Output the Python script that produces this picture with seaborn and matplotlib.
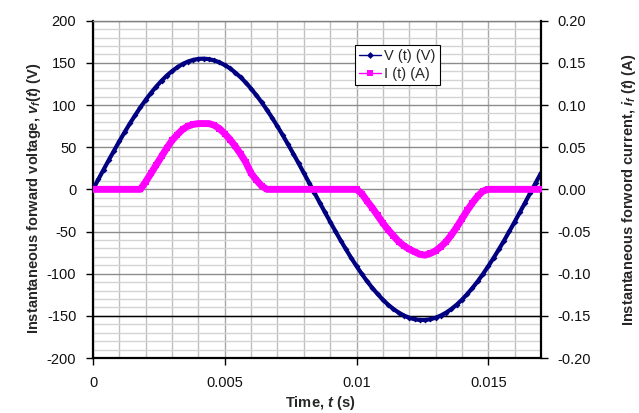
import matplotlib
matplotlib.use("Agg")
import matplotlib.pyplot as plt
from matplotlib.lines import Line2D
from matplotlib.ticker import MultipleLocator, FixedLocator
import seaborn as sns
import pandas as pd

sns.set_theme(style="white")
plt.rcParams["font.family"] = ["Liberation Sans", "DejaVu Sans"]
plt.rcParams["mathtext.fontset"] = "custom"
plt.rcParams["mathtext.rm"] = "Liberation Sans:bold"
plt.rcParams["mathtext.it"] = "Liberation Sans:bold:italic"
plt.rcParams["mathtext.bf"] = "Liberation Sans:bold"

# ---- data ----
time_s = [0.0, 0.0002, 0.0004, 0.0006, 0.0008, 0.001, 0.0012, 0.0014, 0.0016, 0.0018,
          0.002, 0.0022, 0.0024, 0.0026, 0.0028, 0.003, 0.0032, 0.0034, 0.0036, 0.0038,
          0.004, 0.0042, 0.0044, 0.0046, 0.0048, 0.005, 0.0052, 0.0054, 0.0056, 0.0058,
          0.006, 0.0062, 0.0064, 0.0066, 0.0068, 0.007, 0.0072, 0.0074, 0.0076, 0.0078,
          0.008, 0.0082, 0.0084, 0.0086, 0.0088, 0.009, 0.0092, 0.0094, 0.0096, 0.0098,
          0.01, 0.0102, 0.0104, 0.0106, 0.0108, 0.011, 0.0112, 0.0114, 0.0116, 0.0118,
          0.012, 0.0122, 0.0124, 0.0126, 0.0128, 0.013, 0.0132, 0.0134, 0.0136, 0.0138,
          0.014, 0.0142, 0.0144, 0.0146, 0.0148, 0.015, 0.0152, 0.0154, 0.0156, 0.0158,
          0.016, 0.0162, 0.0164, 0.0166, 0.0168, 0.017]

voltage_v = [0.0, 11.7, 23.3, 34.8, 46.0, 57.1, 67.8, 78.1, 87.9, 97.3,
             106.1, 114.3, 121.9, 128.7, 134.9, 140.2, 144.8, 148.6, 151.5, 153.5,
             154.7, 155.0, 154.4, 152.9, 150.6, 147.4, 143.4, 138.5, 132.9, 126.6,
             119.4, 111.6, 103.2, 94.2, 84.7, 74.7, 64.2, 53.4, 42.3, 31.0,
             19.4, 7.8, -3.9, -15.6, -27.1, -38.5, -49.7, -60.7, -71.2, -81.4,
             -91.1, -100.3, -109.0, -116.9, -124.2, -130.9, -136.8, -141.9, -146.2, -149.6,
             -152.3, -154.0, -154.9, -154.9, -154.0, -152.3, -149.6, -146.2, -141.9, -136.8,
             -130.9, -124.2, -116.9, -109.0, -100.3, -91.1, -81.4, -71.2, -60.7, -49.7,
             -38.5, -27.1, -15.6, -3.9, 7.8, 19.4]

current_a = [0, 0, 0, 0, 0, 0, 0, 0, 0, 0,
             0.009, 0.019, 0.029, 0.039, 0.049, 0.058, 0.065, 0.071, 0.075, 0.077,
             0.078, 0.078, 0.078, 0.076, 0.072, 0.066, 0.059, 0.051, 0.042, 0.032,
             0.019, 0.011, 0.004, 0, 0, 0, 0, 0, 0, 0,
             0, 0, 0, 0, 0, 0, 0, 0, 0, 0,
             0, -0.005, -0.014, -0.022, -0.031, -0.040, -0.048, -0.055, -0.062, -0.067,
             -0.071, -0.074, -0.077, -0.078, -0.076, -0.073, -0.068, -0.062, -0.054, -0.045,
             -0.035, -0.025, -0.016, -0.008, -0.002, 0, 0, 0, 0, 0,
             0, 0, 0, 0, 0, 0]

x_ticks = [0, 0.005, 0.01, 0.015]
x_tick_labels = ["0", "0.005", "0.01", "0.015"]
v_ticks = [200, 150, 100, 50, 0, -50, -100, -150, -200]
i_ticks = [0.20, 0.15, 0.10, 0.05, 0.00, -0.05, -0.10, -0.15, -0.20]

df = pd.DataFrame({"t": time_s, "V": voltage_v, "I": current_a})

NAVY = "#000080"
MAGENTA = "#FF00FF"

fig = plt.figure(figsize=(6.39, 4.13), dpi=100)
ax = fig.add_axes([93 / 639, 1 - 358 / 413, (541 - 93) / 639, (358 - 20.7) / 413])
ax.set_facecolor("white")

# grid
ax.set_xlim(0, 0.017)
ax.set_ylim(-200, 200)
ax.xaxis.set_major_locator(FixedLocator(x_ticks))
ax.xaxis.set_minor_locator(MultipleLocator(0.001))
ax.yaxis.set_major_locator(FixedLocator(v_ticks))
ax.yaxis.set_minor_locator(MultipleLocator(10))
ax.grid(which="minor", axis="x", color="#c0c0c0", lw=1.0, zorder=0)
ax.grid(which="major", axis="x", color="#a8a8a8", lw=1.0, zorder=0)
ax.grid(which="minor", axis="y", color="#d4d4d4", lw=1.0, zorder=0)
ax.grid(which="major", axis="y", color="#8c8c8c", lw=1.0, zorder=0)
ax.axhline(-150, color="black", lw=1.0, zorder=1)
ax.set_axisbelow(True)

sns.lineplot(data=df, x="t", y="V", ax=ax, color=NAVY, lw=3.0, marker="D",
             markersize=3, markeredgewidth=0, zorder=3, legend=False)

ax2 = ax.twinx()
ax2.set_ylim(-0.2, 0.2)
sns.lineplot(data=df, x="t", y="I", ax=ax2, color=MAGENTA, lw=5.0, marker="s",
             markersize=4.5, markeredgewidth=0, zorder=3, legend=False,
             solid_joinstyle="round", solid_capstyle="butt")
ax2.set_xlim(0, 0.017)

# ticks
ax.set_xticks(x_ticks)
ax.set_xticklabels(x_tick_labels)
ax.set_yticks(v_ticks)
ax.set_yticklabels([str(v) for v in v_ticks])
ax2.set_yticks(i_ticks)
ax2.set_yticklabels([f"{v:.2f}" for v in i_ticks])
for a in (ax, ax2):
    a.tick_params(which="major", direction="out", length=5, width=1, color="black",
                  labelsize=10.5, labelcolor="#111111")
    a.tick_params(which="minor", length=0)
ax.tick_params(axis="y", pad=7, left=True)
ax.tick_params(axis="x", pad=8, bottom=True)
ax2.tick_params(axis="y", pad=7, right=True)
ax.set_xlabel("")
ax.set_ylabel("")
ax2.set_ylabel("")

# spines
for s in ("left", "bottom"):
    ax.spines[s].set_color("black")
    ax.spines[s].set_linewidth(1.6)
ax.spines["top"].set_color("#808080")
ax.spines["top"].set_linewidth(1.0)
ax.spines["right"].set_visible(False)
for s in ("left", "bottom", "top"):
    ax2.spines[s].set_visible(False)
ax2.spines["right"].set_color("black")
ax2.spines["right"].set_linewidth(1.6)

# labels
fig.text(34 / 639, 1 - 198 / 413, r"Instantaneous forward voltage, $v_f(t)$ (V)",
         rotation=90, ha="center", va="center", fontsize=10.5, fontweight="bold")
fig.text(629 / 639, 1 - 190 / 413, r"Instantaneous forword current, $i_f$ ($t$) (A)",
         rotation=90, ha="center", va="center", fontsize=10.5, fontweight="bold")
fig.text(320 / 639, 1 - 403 / 413, r"Time, $t$ (s)", ha="center", va="center",
         fontsize=10.5, fontweight="bold")

# legend
handles = [Line2D([], [], color=NAVY, lw=1.0, marker="D", markersize=3.5, markeredgewidth=0),
           Line2D([], [], color=MAGENTA, lw=1.0, marker="s", markersize=5, markeredgewidth=0)]
leg = ax2.legend(handles, ["V (t) (V)", "I (t) (A)"], loc="upper left",
                 bbox_to_anchor=((355 - 93) / 448, (358 - 45) / 337.3), borderaxespad=0,
                 fontsize=10.5, frameon=True, fancybox=False, framealpha=1,
                 edgecolor="black", handlelength=1.5, handletextpad=0.2,
                 borderpad=0.3, labelspacing=0.25)
leg.get_frame().set_linewidth(0.8)

fig.savefig("out.png", dpi=100)
